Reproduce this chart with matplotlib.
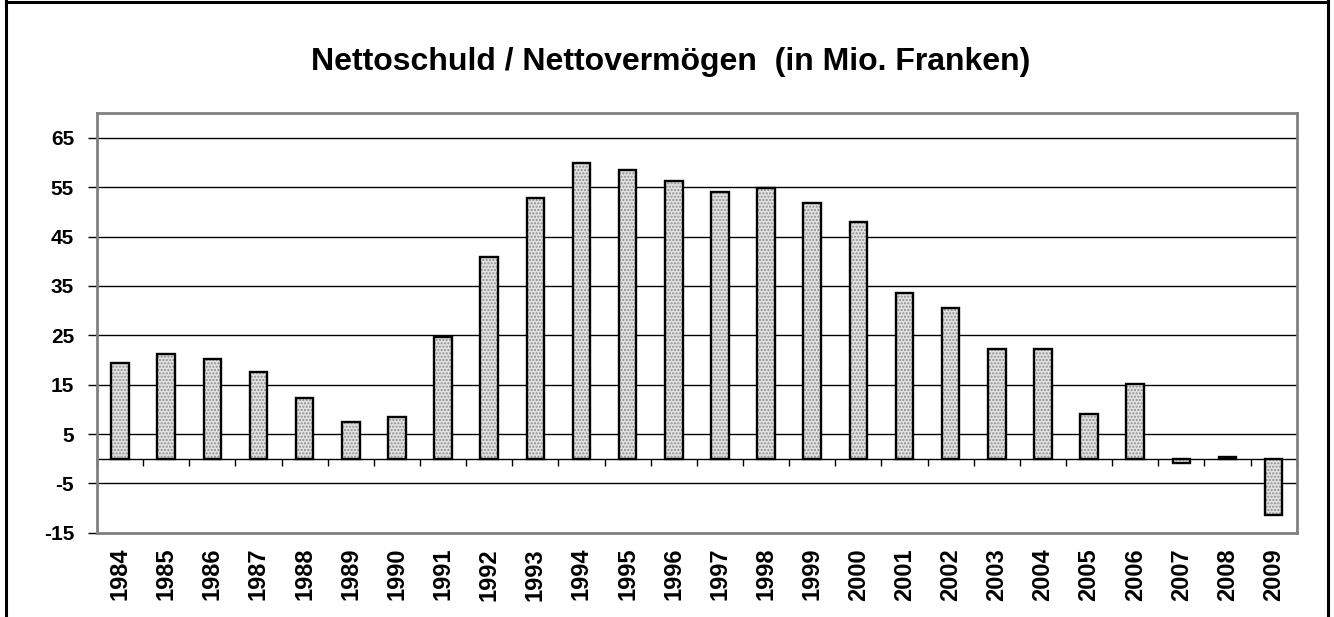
import matplotlib
matplotlib.use("Agg")
import matplotlib.pyplot as plt
from matplotlib.lines import Line2D
import numpy as np

years = ["1984", "1985", "1986", "1987", "1988", "1989", "1990", "1991", "1992",
         "1993", "1994", "1995", "1996", "1997", "1998", "1999", "2000", "2001",
         "2002", "2003", "2004", "2005", "2006", "2007", "2008", "2009"]
values = [19.3, 21.2, 20.3, 17.6, 12.2, 7.5, 8.4, 24.7, 40.8,
          52.8, 59.9, 58.5, 56.3, 54.1, 54.8, 51.9, 48.0, 33.5,
          30.5, 22.2, 22.2, 9.0, 15.2, -0.8, 0.3, -11.5]
ytick_values = [-15, -5, 5, 15, 25, 35, 45, 55, 65]
title = "Nettoschuld / Nettovermögen  (in Mio. Franken)"

plt.rcParams['font.family'] = ['Liberation Sans', 'DejaVu Sans']

W, H = 1334, 617
fig = plt.figure(figsize=(W / 100, H / 100), dpi=100)
ax = fig.add_axes([97 / W, 1 - 532.7 / H, (1296.7 - 97) / W, (532.7 - 113.3) / H])

x = np.arange(len(years))
bw = 0.38
ax.bar(x, values, width=bw, facecolor='#e2e2e2', edgecolor='#8c8c8c',
       linewidth=0, hatch='.....', zorder=3)
ax.bar(x, values, width=bw, fill=False, edgecolor='black', linewidth=1.7, zorder=4)

ax.set_xlim(-0.5, len(years) - 0.5)
ax.set_ylim(-15, 70)
ax.set_yticks(ytick_values)
ax.set_yticklabels([str(v) for v in ytick_values], fontsize=15, fontweight='bold')
ax.tick_params(axis='y', length=6.5, width=1, color='black', pad=10)
ax.yaxis.grid(True, color='black', linewidth=1)
ax.set_axisbelow(True)

ax.set_xticks(x)
ax.set_xticklabels(years, rotation=90, fontsize=17, fontweight='bold')
ax.tick_params(axis='x', length=0, pad=11)

for s in ax.spines.values():
    s.set_color('#808080')
    s.set_linewidth(2)

ax.axhline(0, color='black', linewidth=1, zorder=2)
ax.vlines(np.arange(len(years) + 1) - 0.5, -1.45, 0, color='black', linewidth=1, zorder=2,
          clip_on=False)

fig.text(0.503, 0.899, title, ha='center', va='center', fontsize=23, fontweight='bold')

lw = 2.2
fig.add_artist(Line2D([5.5 / W, 5.5 / W], [0, 1], transform=fig.transFigure, color='black', linewidth=lw))
fig.add_artist(Line2D([1327.5 / W, 1327.5 / W], [0, 1], transform=fig.transFigure, color='black', linewidth=lw))
fig.add_artist(Line2D([5.5 / W, 1327.5 / W], [1 - 1.5 / H, 1 - 1.5 / H], transform=fig.transFigure, color='black', linewidth=lw))

fig.savefig("out.png", dpi=100, facecolor='white')
